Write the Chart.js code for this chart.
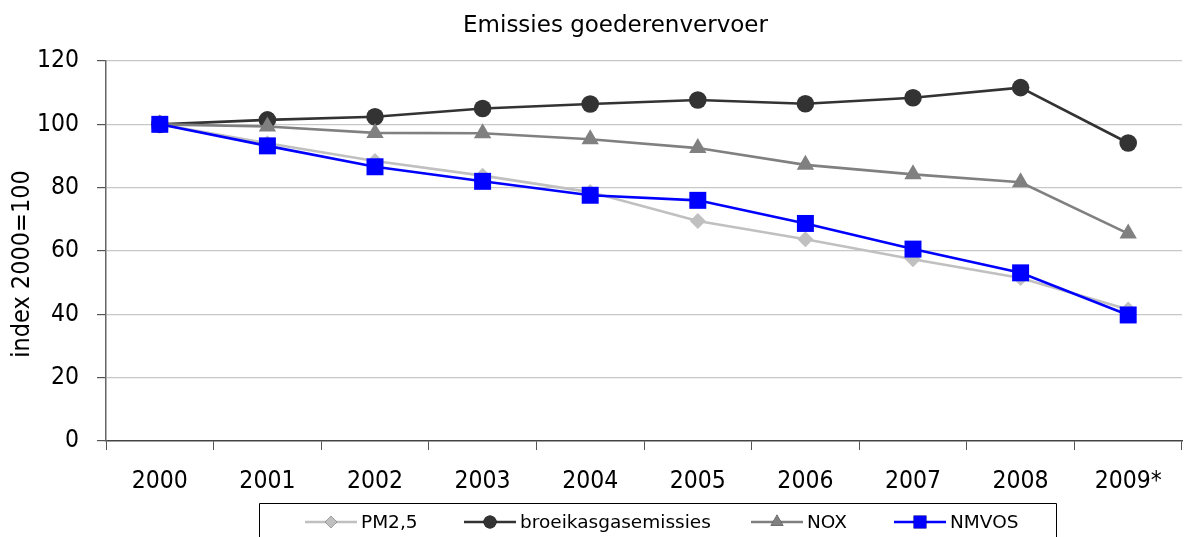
<!DOCTYPE html>
<html>
<head>
<meta charset="utf-8">
<script src="https://cdn.jsdelivr.net/npm/chart.js@4/dist/chart.umd.min.js"></script>
<style>
  html, body { margin: 0; padding: 0; background: #fff; overflow: hidden; }
  #wrap { width: 1194px; height: 537px; position: relative; }
</style>
</head>
<body>
<div id="wrap"><canvas id="c"></canvas></div>
<script>
const categories = ['2000', '2001', '2002', '2003', '2004', '2005', '2006', '2007', '2008', '2009*'];
const pm25 = [100, 94, 88.4, 83.8, 78.6, 69.5, 63.7, 57.4, 51.5, 41.5];
const broeikas = [100, 101.4, 102.4, 105.0, 106.4, 107.7, 106.5, 108.4, 111.6, 94.1];
const nox = [100, 99.3, 97.3, 97.2, 95.3, 92.5, 87.2, 84.2, 81.7, 65.5];
const nmvos = [100, 93.2, 86.6, 82.0, 77.6, 76.0, 68.7, 60.6, 53.1, 39.8];
const yTicks = [0, 20, 40, 60, 80, 100, 120];
const chartTitle = 'Emissies goederenvervoer';
const yTitle = 'index 2000=100';
const seriesNames = ['PM2,5', 'broeikasgasemissies', 'NOX', 'NMVOS'];

const axisFont = 'DejaVu Sans Condensed';

const textPlugin = {
  id: 'customTexts',
  afterDraw(chart) {
    const ctx = chart.ctx;
    ctx.save();
    ctx.font = '23px "DejaVu Sans"';
    ctx.fillStyle = '#000';
    ctx.textAlign = 'center';
    ctx.textBaseline = 'middle';
    ctx.fillText(chartTitle, 615.5, 26);
    ctx.translate(22, 264);
    ctx.rotate(-Math.PI / 2);
    ctx.font = '25px "' + axisFont + '"';
    ctx.fillText(yTitle, 0, 0);
    ctx.restore();
  }
};

const legendPlugin = {
  id: 'boxLegend',
  afterDraw(chart) {
    const ctx = chart.ctx;
    ctx.save();
    ctx.strokeStyle = '#000';
    ctx.lineWidth = 1;
    ctx.beginPath();
    ctx.moveTo(259.5, 545);
    ctx.lineTo(259.5, 503.5);
    ctx.lineTo(1056.5, 503.5);
    ctx.lineTo(1056.5, 545);
    ctx.stroke();
    const starts = [305, 464, 751, 894];
    const yMid = 522;
    ctx.font = '18.5px "DejaVu Sans"';
    ctx.textBaseline = 'middle';
    ctx.textAlign = 'left';
    chart.data.datasets.forEach((ds, k) => {
      const x0 = starts[k];
      ctx.strokeStyle = ds.borderColor;
      ctx.lineWidth = ds.borderWidth;
      ctx.beginPath();
      ctx.moveTo(x0, yMid);
      ctx.lineTo(x0 + 52, yMid);
      ctx.stroke();
      Chart.helpers.drawPoint(ctx, {
        pointStyle: ds.pointStyle, radius: ds.legendRadius, rotation: 0, borderWidth: 0
      }, x0 + 26, yMid);
      ctx.fillStyle = ds.pointBackgroundColor;
      ctx.fill();
      ctx.fillStyle = '#000';
      ctx.fillText(ds.label, x0 + 56, yMid + 1);
    });
    ctx.restore();
  }
};

new Chart(document.getElementById('c'), {
  type: 'line',
  data: {
    labels: categories,
    datasets: [
      {
        label: seriesNames[0], data: pm25, borderColor: '#C0C0C0', backgroundColor: '#C0C0C0',
        pointBackgroundColor: '#C0C0C0', pointBorderColor: '#C0C0C0', borderWidth: 2.6,
        pointStyle: 'rectRot', pointRadius: 8, pointBorderWidth: 0, legendRadius: 6, order: 3, tension: 0
      },
      {
        label: seriesNames[1], data: broeikas, borderColor: '#333333', backgroundColor: '#333333',
        pointBackgroundColor: '#333333', pointBorderColor: '#333333', borderWidth: 2.6,
        pointStyle: 'circle', pointRadius: 8.8, pointBorderWidth: 0, legendRadius: 6.5, order: 4, tension: 0
      },
      {
        label: seriesNames[2], data: nox, borderColor: '#808080', backgroundColor: '#808080',
        pointBackgroundColor: '#808080', pointBorderColor: '#808080', borderWidth: 2.6,
        pointStyle: 'triangle', pointRadius: 10, pointBorderWidth: 0, legendRadius: 7.5, order: 2, tension: 0
      },
      {
        label: seriesNames[3], data: nmvos, borderColor: '#0000FF', backgroundColor: '#0000FF',
        pointBackgroundColor: '#0000FF', pointBorderColor: '#0000FF', borderWidth: 2.6,
        pointStyle: 'rect', pointRadius: 12, pointBorderWidth: 0, legendRadius: 9, order: 1, tension: 0
      }
    ]
  },
  options: {
    responsive: true,
    maintainAspectRatio: false,
    animation: false,
    events: [],
    layout: { padding: { top: 61, left: 0, right: 0, bottom: 0 } },
    plugins: {
      legend: { display: false },
      title: { display: false },
      tooltip: { enabled: false }
    },
    scales: {
      x: {
        type: 'category',
        offset: true,
        afterFit(scale) { scale.height = 96; },
        grid: {
          display: true, offset: true, drawOnChartArea: false, drawTicks: true,
          tickLength: 9, color: '#555', lineWidth: 1
        },
        border: { display: true, color: '#444', width: 1.5 },
        ticks: {
          color: '#000', padding: 17, maxRotation: 0, autoSkip: false,
          font: { family: axisFont, size: 24.5 }
        }
      },
      y: {
        min: 0, max: 120,
        afterFit(scale) { scale.width = 106; },
        afterBuildTicks(scale) { scale.ticks = yTicks.map(v => ({ value: v })); },
        grid: {
          color: (c) => (c.tick && c.tick.value === 0) ? 'rgba(0,0,0,0)' : '#C8C8C8',
          tickColor: '#555', tickLength: 9, lineWidth: 1.2
        },
        border: { display: true, color: '#666', width: 1.5 },
        ticks: {
          color: '#000', padding: 18,
          font: { family: axisFont, size: 24.5 }
        },
        title: { display: false }
      }
    }
  },
  plugins: [textPlugin, legendPlugin]
});
</script>
</body>
</html>
